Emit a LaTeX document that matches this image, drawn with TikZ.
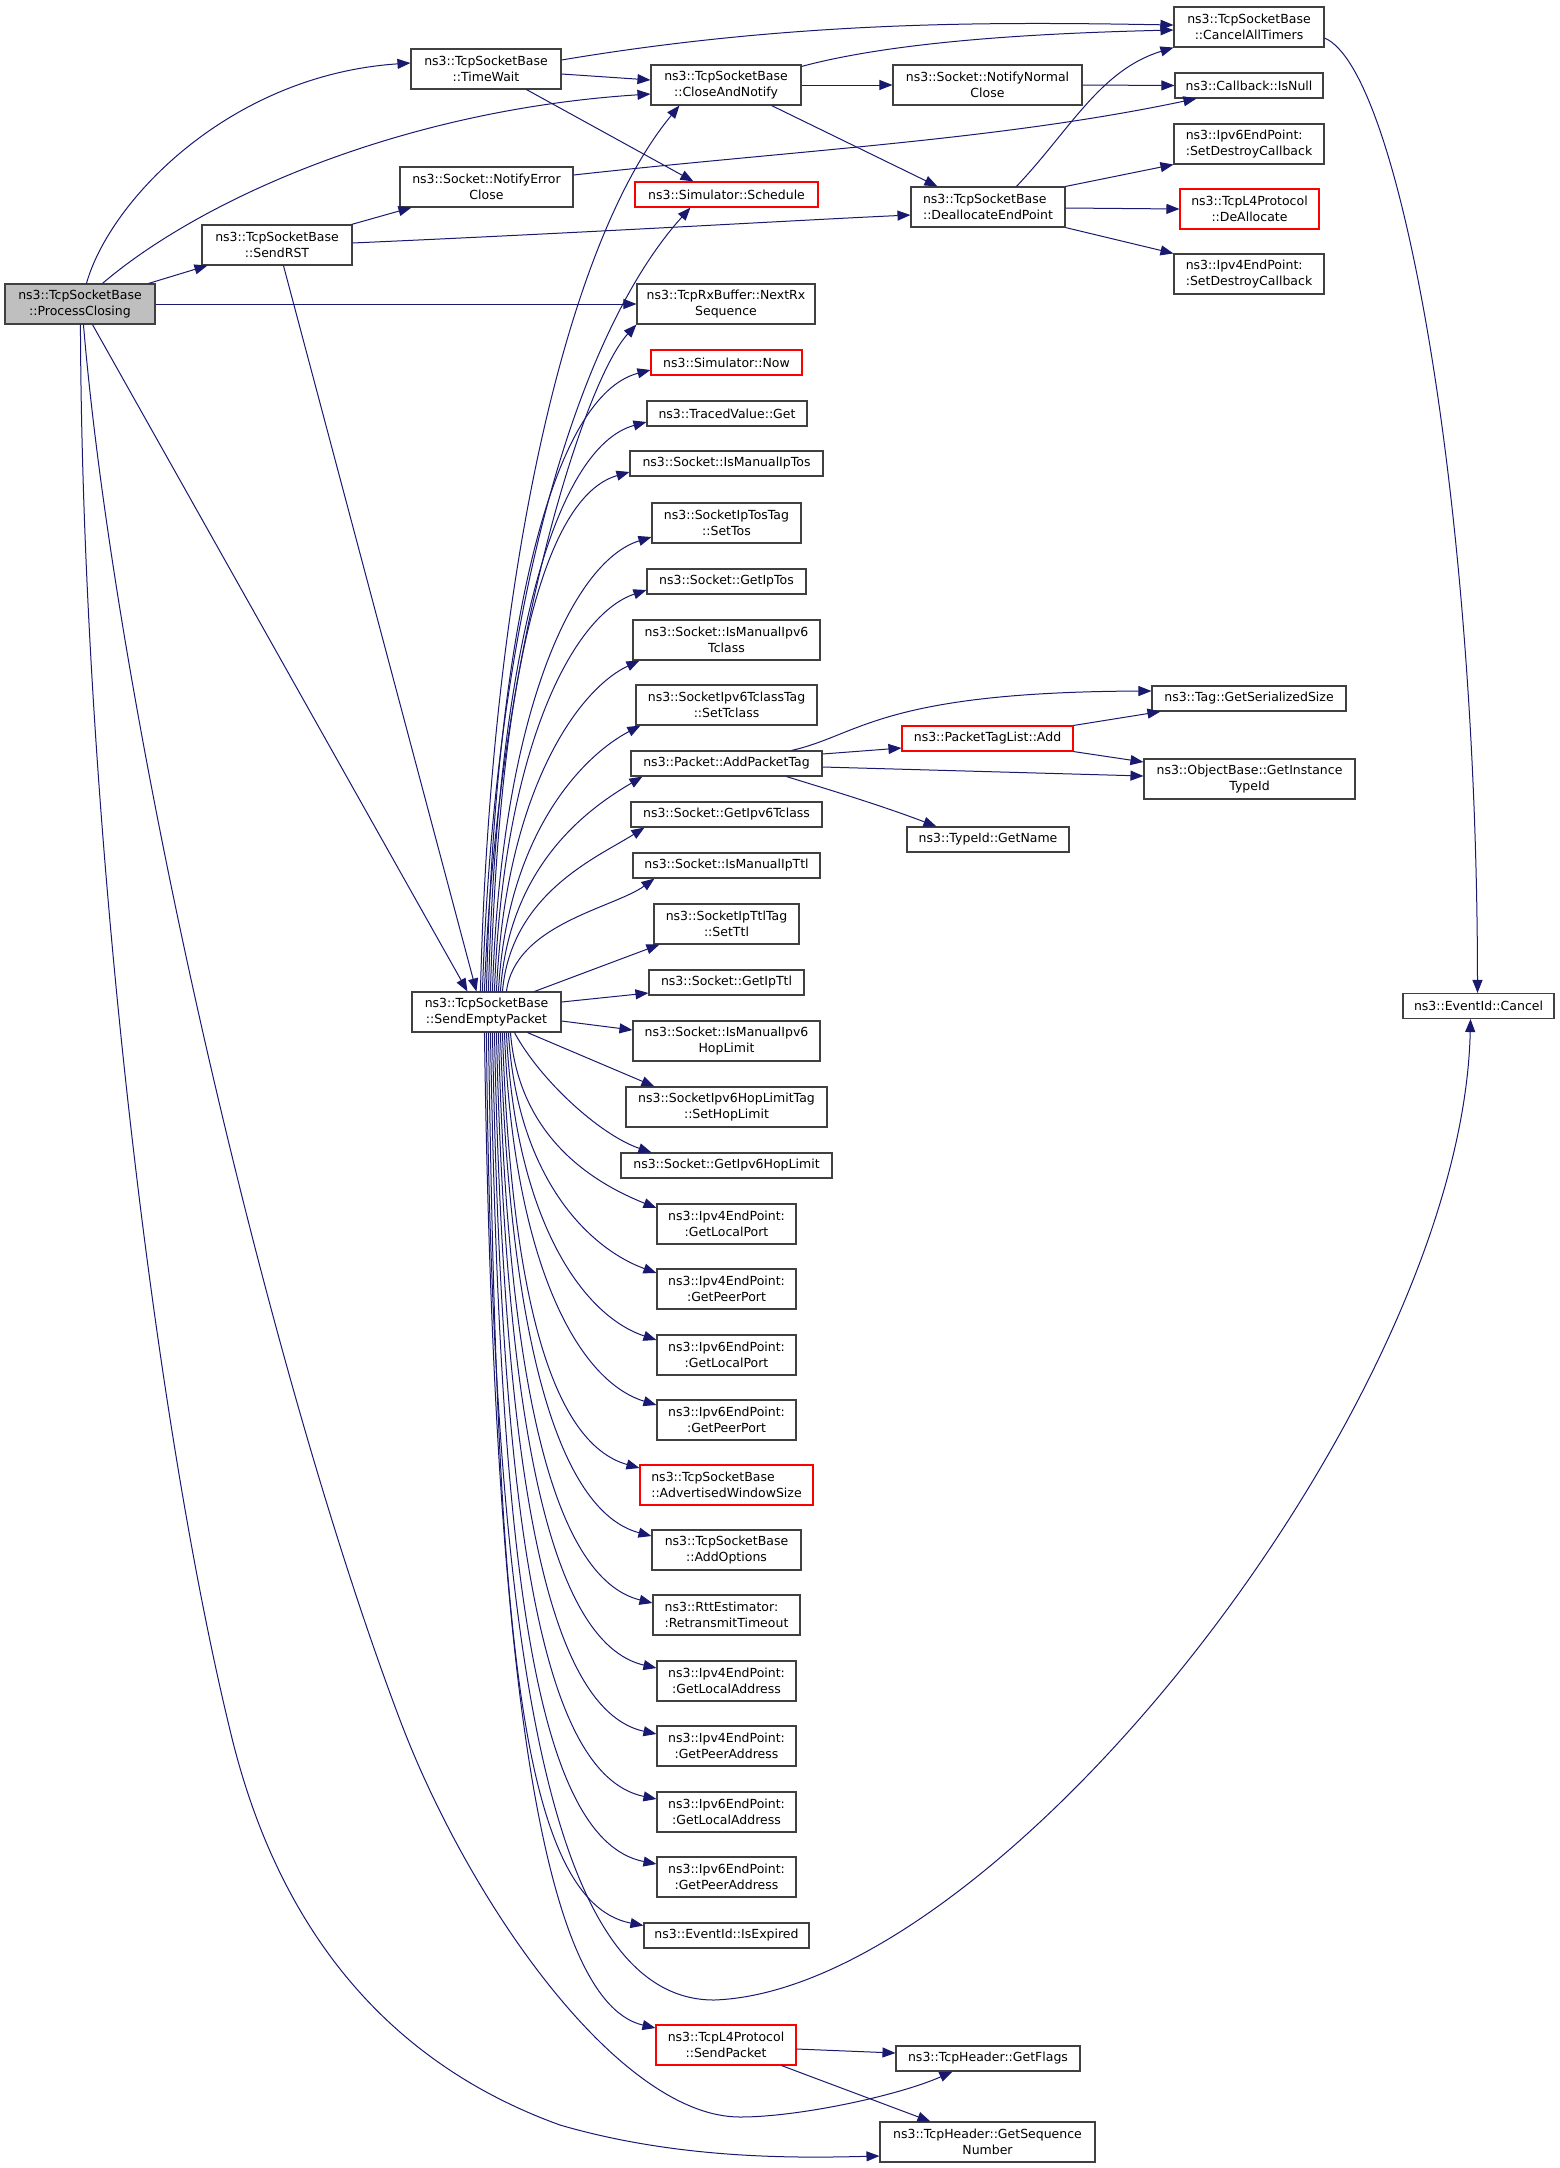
\documentclass[tikz,border=0pt]{standalone}
\usepackage{fontspec}
\setmainfont{DejaVu Sans}
\usetikzlibrary{arrows.meta,calc}
\definecolor{edgec}{HTML}{191970}
\definecolor{boxc}{HTML}{404040}
\definecolor{rootc}{HTML}{BFBFBF}
\begin{document}
\begin{tikzpicture}[x=1pt,y=-1pt,
  box/.style={draw=boxc, fill=white, line width=1.1pt, inner sep=0pt, align=center,
              font=\fontsize{12.5}{15.5}\selectfont},
  redbox/.style={box, draw=red},
  rootbox/.style={box, fill=rootc},
  lbox/.style={box, align=left},
  edge/.style={draw=edgec, line width=1pt, -{Triangle[length=13pt,width=10pt]}},
]
\fill[white] (0,0) rectangle (1560,2168);
\useasboundingbox (0,0) rectangle (1560,2168);

% ---------- nodes ----------
\node[rootbox, minimum width=150pt, minimum height=40pt] (pc) at (80,304) {ns3::TcpSocketBase\\::ProcessClosing};
\node[box, minimum width=150pt, minimum height=40pt] (tw) at (486,69) {ns3::TcpSocketBase\\::TimeWait};
\node[box, minimum width=150pt, minimum height=40pt] (can) at (726,85) {ns3::TcpSocketBase\\::CloseAndNotify};
\node[box, minimum width=173pt, minimum height=40pt] (nec) at (486.5,187) {ns3::Socket::NotifyError\\Close};
\node[redbox, minimum width=183pt, minimum height=25pt] (sched) at (726.5,194.5) {ns3::Simulator::Schedule};
\node[box, minimum width=150pt, minimum height=40pt] (rst) at (277,245) {ns3::TcpSocketBase\\::SendRST};
\node[box, minimum width=178pt, minimum height=40pt] (nrx) at (726,304) {ns3::TcpRxBuffer::NextRx\\Sequence};
\node[box, minimum width=150pt, minimum height=40pt] (cat) at (1249,27) {ns3::TcpSocketBase\\::CancelAllTimers};
\node[box, minimum width=189pt, minimum height=40pt] (nnc) at (987.5,85) {ns3::Socket::NotifyNormal\\Close};
\node[box, minimum width=148pt, minimum height=25pt] (isnull) at (1249,85.5) {ns3::Callback::IsNull};
\node[lbox, minimum width=150pt, minimum height=40pt] (v6sdc) at (1249,144) {ns3::Ipv6EndPoint:\\:SetDestroyCallback};
\node[lbox, minimum width=154pt, minimum height=40pt] (dep) at (988,207) {ns3::TcpSocketBase\\::DeallocateEndPoint};
\node[redbox, minimum width=139pt, minimum height=40pt] (dealloc) at (1249.5,209) {ns3::TcpL4Protocol\\::DeAllocate};
\node[lbox, minimum width=150pt, minimum height=40pt] (v4sdc) at (1249,274) {ns3::Ipv4EndPoint:\\:SetDestroyCallback};

\node[redbox, minimum width=151pt, minimum height=25pt] (now) at (726.5,362.5) {ns3::Simulator::Now};
\node[box, minimum width=160pt, minimum height=25pt] (tvget) at (727,413.5) {ns3::TracedValue::Get};
\node[box, minimum width=193pt, minimum height=25pt] (imtos) at (726.5,463.5) {ns3::Socket::IsManualIpTos};
\node[box, minimum width=149pt, minimum height=40pt] (settos) at (726.5,523) {ns3::SocketIpTosTag\\::SetTos};
\node[box, minimum width=159pt, minimum height=25pt] (getiptos) at (726.5,581.5) {ns3::Socket::GetIpTos};
\node[box, minimum width=187pt, minimum height=40pt] (imv6tc) at (726.5,640) {ns3::Socket::IsManualIpv6\\Tclass};
\node[box, minimum width=181pt, minimum height=40pt] (settc) at (726.5,705) {ns3::SocketIpv6TclassTag\\::SetTclass};
\node[box, minimum width=191pt, minimum height=25pt] (apt) at (726.5,763.5) {ns3::Packet::AddPacketTag};
\node[box, minimum width=191pt, minimum height=25pt] (getv6tc) at (726.5,814.5) {ns3::Socket::GetIpv6Tclass};
\node[box, minimum width=187pt, minimum height=25pt] (imttl) at (726.5,865.5) {ns3::Socket::IsManualIpTtl};
\node[box, minimum width=145pt, minimum height=40pt] (setttl) at (726.5,924) {ns3::SocketIpTtlTag\\::SetTtl};
\node[box, minimum width=155pt, minimum height=25pt] (getipttl) at (726.5,982.5) {ns3::Socket::GetIpTtl};
\node[box, minimum width=187pt, minimum height=40pt] (imv6hl) at (726.5,1041) {ns3::Socket::IsManualIpv6\\HopLimit};
\node[box, minimum width=201pt, minimum height=40pt] (sethl) at (726.5,1107) {ns3::SocketIpv6HopLimitTag\\::SetHopLimit};
\node[box, minimum width=211pt, minimum height=25pt] (getv6hl) at (726.5,1165.5) {ns3::Socket::GetIpv6HopLimit};
\node[box, minimum width=139pt, minimum height=40pt] (v4glp) at (726.5,1224) {ns3::Ipv4EndPoint:\\:GetLocalPort};
\node[box, minimum width=139pt, minimum height=40pt] (v4gpp) at (726.5,1289) {ns3::Ipv4EndPoint:\\:GetPeerPort};
\node[box, minimum width=139pt, minimum height=40pt] (v6glp) at (726.5,1355) {ns3::Ipv6EndPoint:\\:GetLocalPort};
\node[box, minimum width=139pt, minimum height=40pt] (v6gpp) at (726.5,1420) {ns3::Ipv6EndPoint:\\:GetPeerPort};
\node[redbox, align=left, minimum width=173pt, minimum height=40pt] (adv) at (726.5,1485) {ns3::TcpSocketBase\\::AdvertisedWindowSize};
\node[box, minimum width=149pt, minimum height=40pt] (addopt) at (726.5,1550) {ns3::TcpSocketBase\\::AddOptions};
\node[lbox, minimum width=147pt, minimum height=40pt] (rtt) at (726.5,1615) {ns3::RttEstimator:\\:RetransmitTimeout};
\node[box, minimum width=139pt, minimum height=40pt] (v4gla) at (726.5,1681) {ns3::Ipv4EndPoint:\\:GetLocalAddress};
\node[box, minimum width=139pt, minimum height=40pt] (v4gpa) at (726.5,1746) {ns3::Ipv4EndPoint:\\:GetPeerAddress};
\node[box, minimum width=139pt, minimum height=40pt] (v6gla) at (726.5,1812) {ns3::Ipv6EndPoint:\\:GetLocalAddress};
\node[box, minimum width=139pt, minimum height=40pt] (v6gpa) at (726.5,1877) {ns3::Ipv6EndPoint:\\:GetPeerAddress};
\node[box, minimum width=165pt, minimum height=25pt] (isexp) at (726.5,1935.5) {ns3::EventId::IsExpired};
\node[redbox, minimum width=140pt, minimum height=40pt] (sendpkt) at (726,2045) {ns3::TcpL4Protocol\\::SendPacket};
\node[box, minimum width=184pt, minimum height=25pt] (gflags) at (988,2058.5) {ns3::TcpHeader::GetFlags};
\node[box, minimum width=215pt, minimum height=40pt] (gsn) at (987.5,2142) {ns3::TcpHeader::GetSequence\\Number};
\node[box, minimum width=149pt, minimum height=40pt] (sep) at (486.5,1012) {ns3::TcpSocketBase\\::SendEmptyPacket};
\node[box, minimum width=194pt, minimum height=25pt] (tagss) at (1249,698.5) {ns3::Tag::GetSerializedSize};
\node[redbox, minimum width=171pt, minimum height=25pt] (ptladd) at (987.5,738.5) {ns3::PacketTagList::Add};
\node[box, minimum width=211pt, minimum height=40pt] (gitid) at (1249.5,779) {ns3::ObjectBase::GetInstance\\TypeId};
\node[box, minimum width=162pt, minimum height=25pt] (gname) at (988,839.5) {ns3::TypeId::GetName};
\node[box, minimum width=151pt, minimum height=25pt] (cancel) at (1478.5,1006) {ns3::EventId::Cancel};

% ---------- edges from ProcessClosing ----------
\draw[edge] ($(pc.north west)+(82,0)$) .. controls (110,200) and (230,75) .. ($(tw.west)+(0,-6)$);
\draw[edge] ($(pc.north west)+(98,0)$) .. controls (200,200) and (400,110) .. ($(can.west)+(0,9)$);
\draw[edge] ($(pc.north east)+(-7,0)$) -- ($(rst.south west)+(6,0)$);
\draw[edge] (pc.east) -- (nrx.west);
\draw[edge] ($(pc.south west)+(88,0)$) -- ($(sep.north west)+(56,0)$);
\draw[edge] ($(pc.south west)+(79,0)$) .. controls (115,700) and (260,1350) .. (400,1720)
   .. controls (470,1905) and (620,2117) .. (740,2117)
   .. controls (800,2117) and (900,2095) .. ($(gflags.south west)+(57,0)$);
\draw[edge] ($(pc.south west)+(76,0)$) .. controls (82,800) and (150,1400) .. (230,1730)
   .. controls (275,1920) and (380,2060) .. (560,2125)
   .. controls (680,2160) and (800,2158) .. ($(gsn.west)+(0,14)$);

% ---------- TimeWait, CloseAndNotify, SendRST ----------
\draw[edge] ($(tw.east)+(0,-9)$) .. controls (800,20) and (1000,22) .. ($(cat.west)+(0,-2)$);
\draw[edge] ($(tw.east)+(0,5)$) -- ($(can.west)+(0,-5)$);
\draw[edge] ($(tw.south west)+(116,0)$) -- ($(sched.north west)+(59,0)$);
\draw[edge] ($(can.north east)+(0,2)$) .. controls (900,40) and (1050,33) .. ($(cat.west)+(0,3)$);
\draw[edge] (can.east) -- (nnc.west);
\draw[edge] ($(can.south east)+(-30,0)$) -- ($(dep.north west)+(27,0)$);
\draw[edge] (nnc.east) -- (isnull.west);
\draw[edge] ($(nec.east)+(0,-12)$) .. controls (800,150) and (1000,140) .. ($(isnull.south west)+(22,0)$);
\draw[edge] ($(rst.north east)+(-1,0)$) -- ($(nec.south west)+(12,0)$);
\draw[edge] ($(rst.east)+(0,-2)$) .. controls (600,232) and (800,220) .. ($(dep.west)+(0,8)$);
\draw[edge] ($(rst.south west)+(82,0)$) -- ($(sep.north west)+(65,0)$);

% ---------- DeallocateEndPoint, CancelAllTimers ----------
\draw[edge] ($(dep.north west)+(106,0)$) .. controls (1070,130) and (1100,70) .. (cat.south west);
\draw[edge] (dep.north east) -- (v6sdc.south west);
\draw[edge] ($(dep.east)+(0,1)$) -- (dealloc.west);
\draw[edge] (dep.south east) -- (v4sdc.north west);
\draw[edge] ($(cat.east)+(0,11)$) .. controls (1400,70) and (1477,500) .. ($(cancel.north)+(-1,0)$);

% ---------- AddPacketTag, PacketTagList::Add, SendPacket ----------
\draw[edge] ($(apt.north west)+(161,0)$) .. controls (860,735) and (880,692) .. ($(tagss.west)+(0,-7.5)$);
\draw[edge] ($(apt.east)+(0,-9.5)$) -- ($(ptladd.west)+(0,9.5)$);
\draw[edge] ($(apt.east)+(0,3.5)$) -- ($(gitid.west)+(0,-3)$);
\draw[edge] ($(apt.south west)+(156,0)$) .. controls (830,790) and (880,805) .. ($(gname.north west)+(30,0)$);
\draw[edge] (ptladd.north east) -- ($(tagss.south west)+(9,0)$);
\draw[edge] (ptladd.south east) -- ($(gitid.west)+(0,-17)$);
\draw[edge] ($(sendpkt.east)+(0,4)$) -- ($(gflags.west)+(0,-5.5)$);
\draw[edge] ($(sendpkt.south east)+(-15,0)$) -- ($(gsn.north west)+(51,0)$);

% ---------- SendEmptyPacket: upwards ----------
\draw[edge] ($(sep.north west)+(69,0)$) .. controls (490,600) and (560,250) .. ($(can.south west)+(29,0)$);
\draw[edge] ($(sep.north west)+(71,0)$) .. controls (495,600) and (580,330) .. ($(sched.south west)+(56,0)$);
\draw[edge] ($(sep.north west)+(73,0)$) .. controls (497,650) and (585,380) .. (nrx.south west);
\draw[edge] ($(sep.north west)+(75,0)$) .. controls (495,619) and (554,395) .. ($(now.west)+(0,7.5)$);
\draw[edge] ($(sep.north west)+(77,0)$) .. controls (497,650) and (555,447) .. ($(tvget.west)+(0,8.5)$);
\draw[edge] ($(sep.north west)+(79,0)$) .. controls (499,680) and (543,497) .. ($(imtos.west)+(0,8.5)$);
\draw[edge] ($(sep.north west)+(81,0)$) .. controls (501,719) and (571,562) .. ($(settos.west)+(0,14)$);
\draw[edge] ($(sep.north west)+(83,0)$) .. controls (503,751) and (572,615) .. ($(getiptos.west)+(0,8.5)$);
\draw[edge] ($(sep.north west)+(85,0)$) .. controls (505,793) and (577,690) .. ($(imv6tc.south west)+(7,0)$);
\draw[edge] ($(sep.north west)+(87,0)$) .. controls (507,832) and (584,755) .. ($(settc.south west)+(5,0)$);
\draw[edge] ($(sep.north west)+(89,0)$) .. controls (509,863) and (591,807) .. ($(apt.south west)+(12,0)$);
\draw[edge] ($(sep.north west)+(91,0)$) .. controls (511,893) and (598,857) .. ($(getv6tc.south west)+(14,0)$);
\draw[edge] ($(sep.north west)+(95,0)$) .. controls (515,924) and (614,908) .. ($(imttl.south west)+(22,0)$);
\draw[edge] ($(sep.north west)+(123,0)$) -- ($(setttl.south west)+(6,0)$);
\draw[edge] ($(sep.east)+(0,-10)$) -- ($(getipttl.west)+(0,10.5)$);
\draw[edge] ($(sep.east)+(0,9)$) -- ($(imv6hl.west)+(0,-11)$);

% ---------- SendEmptyPacket: downwards ----------
\draw[edge] ($(sep.south west)+(116,0)$) -- ($(sethl.north west)+(29,0)$);
\draw[edge] ($(sep.south west)+(103,0)$) .. controls (540,1080) and (600,1135) .. ($(getv6hl.north west)+(31,0)$);
\draw[edge] ($(sep.south west)+(99,0)$) .. controls (519,1138) and (594,1183) .. ($(v4glp.west)+(0,-16)$);
\draw[edge] ($(sep.south west)+(97,0)$) .. controls (517,1177) and (588,1248) .. ($(v4gpp.west)+(0,-16)$);
\draw[edge] ($(sep.south west)+(95,0)$) .. controls (515,1217) and (581,1315) .. ($(v6glp.west)+(0,-15)$);
\draw[edge] ($(sep.south west)+(93,0)$) .. controls (513,1256) and (575,1380) .. ($(v6gpp.west)+(0,-15)$);
\draw[edge] ($(sep.south west)+(91,0)$) .. controls (511,1294) and (551,1443) .. ($(adv.west)+(0,-17)$);
\draw[edge] ($(sep.south west)+(89,0)$) .. controls (509,1334) and (557,1511) .. ($(addopt.west)+(0,-14)$);
\draw[edge] ($(sep.south west)+(87,0)$) .. controls (507,1375) and (551,1578) .. ($(rtt.west)+(0,-12)$);
\draw[edge] ($(sep.south west)+(85,0)$) .. controls (505,1414) and (548,1643) .. ($(v4gla.west)+(0,-13)$);
\draw[edge] ($(sep.south west)+(83,0)$) .. controls (503,1453) and (542,1709) .. ($(v4gpa.west)+(0,-12)$);
\draw[edge] ($(sep.south west)+(81,0)$) .. controls (501,1492) and (535,1774) .. ($(v6gla.west)+(0,-13)$);
\draw[edge] ($(sep.south west)+(79,0)$) .. controls (499,1531) and (529,1839) .. ($(v6gpa.west)+(0,-13)$);
\draw[edge] ($(sep.south west)+(77,0)$) .. controls (497,1568) and (510,1900) .. ($(isexp.west)+(0,-10)$);
\draw[edge] ($(sep.south west)+(75,0)$) .. controls (492,1700) and (560,2000) .. (714,2000)
   .. controls (1000,1990) and (1462,1400) .. ($(cancel.south)+(-8,0)$);
\draw[edge] ($(sep.south west)+(73,0)$) .. controls (493,1630) and (535,2000) .. ($(sendpkt.west)+(0,-17)$);
\end{tikzpicture}
\end{document}
